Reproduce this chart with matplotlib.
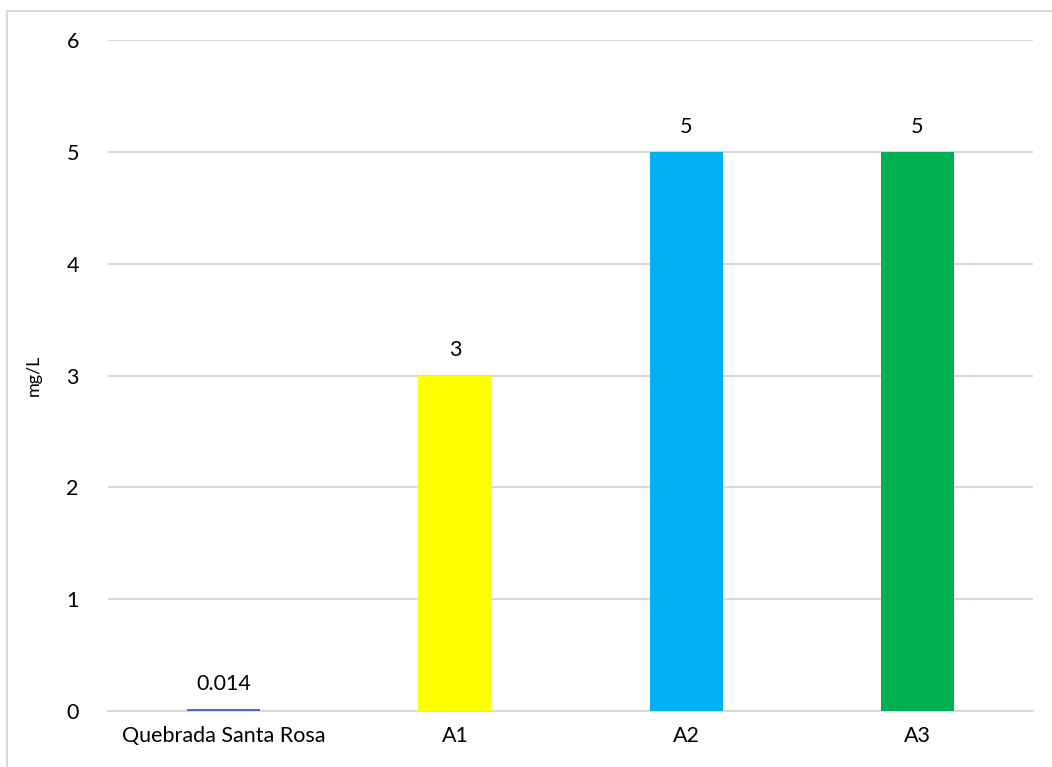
import matplotlib
matplotlib.use("Agg")
import matplotlib.pyplot as plt
from matplotlib.patches import Rectangle

categories = ["Quebrada Santa Rosa", "A1", "A2", "A3"]
values = [0.014, 3, 5, 5]
labels = ["0.014", "3", "5", "5"]
colors = ["#4472C4", "#FFFF00", "#00B0F0", "#00B050"]
yticks = [0, 1, 2, 3, 4, 5, 6]

plt.rcParams['font.family'] = ['Lato', 'DejaVu Sans']

W, H = 1052, 767
fig = plt.figure(figsize=(W / 100, H / 100), dpi=100)
fig.patches.append(Rectangle((7 / W, -0.1), 1.2, 1 - 11 / H + 0.1, transform=fig.transFigure,
                             fill=False, edgecolor="#D9D9D9", linewidth=1.5))
ax = fig.add_axes([108 / W, 1 - 711 / H, (1033 - 108) / W, (711 - 40) / H])

x = list(range(len(categories)))
ax.bar(x, values, width=0.315, color=colors, zorder=3)
for xi, v, lab in zip(x, values, labels):
    ax.annotate(lab, (xi, v), xytext=(0, 11), textcoords="offset points",
                ha="center", va="bottom", fontsize=15.5, color="#000000")

ax.set_xlim(-0.5, len(categories) - 0.5)
ax.set_ylim(0, 6)
ax.set_yticks(yticks)
ax.set_yticklabels([str(t) for t in yticks], fontsize=15.5)
ax.set_xticks(x)
ax.set_xticklabels(categories, fontsize=15.5)
ax.tick_params(axis="y", length=0, pad=21)
ax.tick_params(axis="x", length=0, pad=11)
ax.grid(axis="y", color="#D9D9D9", linewidth=1.5, zorder=0)
for s in ["top", "right", "left"]:
    ax.spines[s].set_visible(False)
ax.spines["bottom"].set_color("#D9D9D9")
ax.spines["bottom"].set_linewidth(1.5)
ax.set_ylabel("mg/L", fontsize=13, labelpad=18)

fig.savefig("out.png", dpi=100)
